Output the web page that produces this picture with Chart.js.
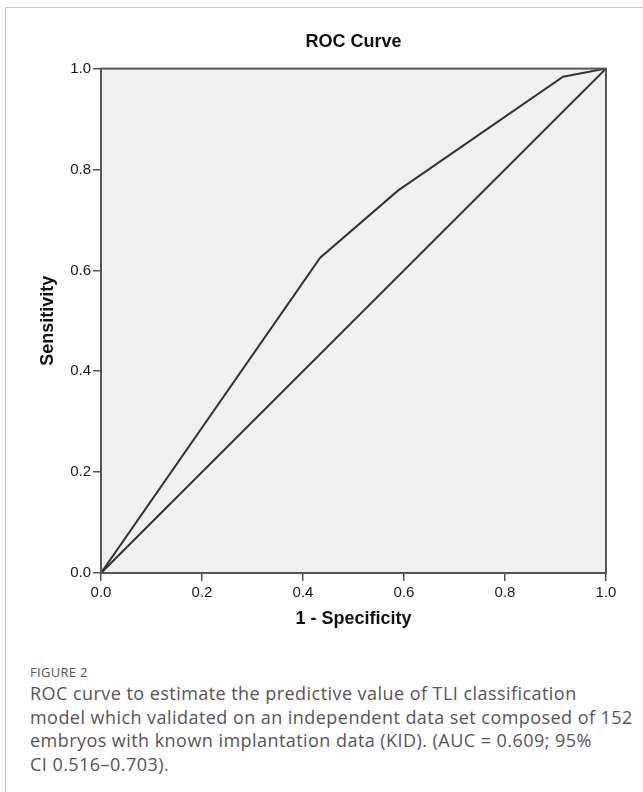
<!DOCTYPE html>
<html>
<head>
<meta charset="utf-8">
<script src="https://cdn.jsdelivr.net/npm/chart.js@4"></script>
<style>
  html, body { margin: 0; padding: 0; background: #fff; }
  body { width: 643px; height: 792px; position: relative; overflow: hidden; }
  .frame { position: absolute; left: 5px; top: 7px; right: 0; bottom: 0;
           border-top: 1px solid #c8c8c8; border-left: 1px solid #c8c8c8; }
  .chart-box { position: absolute; left: 0; top: 0; width: 643px; height: 640px; }
  .caption { position: absolute; left: 30px; top: 663px; width: 612px;
             font-family: "Open Sans", "Noto Sans", sans-serif; color: #555; }
  .caption .label { font-size: 13px; letter-spacing: 0.3px; margin-bottom: 1px; }
  .caption .text { font-size: 18px; line-height: 23.5px; letter-spacing: 0.45px; white-space: nowrap; }
</style>
</head>
<body>
<div class="frame"></div>
<div class="chart-box"><canvas id="roc"></canvas></div>
<div class="caption">
  <div class="label">FIGURE 2</div>
  <div class="text">ROC curve to estimate the predictive value of TLI classification<br>model which validated on an independent data set composed of 152<br>embryos with known implantation data (KID). (AUC = 0.609; 95%<br>CI 0.516–0.703).</div>
</div>
<script>
// ROC points
const specComplement = [0, 0.434, 0.588, 0.915, 1];
const sensitivity = [0, 0.625, 0.758, 0.984, 1];
// reference diagonal
const refX = [0, 1];
const refY = [0, 1];
const tickValues = [0, 0.2, 0.4, 0.6, 0.8, 1.0];

const toPoints = (xs, ys) => xs.map((x, i) => ({ x: x, y: ys[i] }));

Chart.defaults.font.family = '"Liberation Sans", Arial, sans-serif';
Chart.defaults.color = '#1a1a1a';

const plotFrame = {
  id: 'plotFrame',
  beforeDatasetsDraw(chart) {
    const { ctx, chartArea: a } = chart;
    ctx.save();
    ctx.fillStyle = '#f0f0f0';
    ctx.fillRect(a.left, a.top, a.right - a.left, a.bottom - a.top);
    ctx.restore();
  },
  afterDatasetsDraw(chart) {
    const { ctx, chartArea: a } = chart;
    ctx.save();
    ctx.strokeStyle = '#555';
    ctx.lineWidth = 2;
    ctx.strokeRect(a.left, a.top, a.right - a.left, a.bottom - a.top);
    ctx.restore();
  }
};

const axisCommon = {
  type: 'linear',
  min: 0,
  max: 1,
  afterBuildTicks(scale) {
    scale.ticks = tickValues.map(v => ({ value: v }));
  },
  grid: { drawOnChartArea: false, drawTicks: true, tickLength: 8, color: '#555', lineWidth: 1.5 },
  border: { display: true, color: '#555', width: 2 }
};

new Chart(document.getElementById('roc'), {
  type: 'scatter',
  data: {
    datasets: [
      {
        label: 'ROC',
        data: toPoints(specComplement, sensitivity),
        showLine: true,
        borderColor: '#333',
        borderWidth: 2,
        pointRadius: 0,
        fill: false
      },
      {
        label: 'Reference',
        data: toPoints(refX, refY),
        showLine: true,
        borderColor: '#333',
        borderWidth: 2,
        pointRadius: 0,
        fill: false
      }
    ]
  },
  options: {
    responsive: true,
    maintainAspectRatio: false,
    animation: false,
    layout: { padding: { left: 0, right: 37, top: 0, bottom: 0 } },
    plugins: {
      legend: { display: false },
      tooltip: { enabled: false },
      title: {
        display: true,
        fullSize: false,
        text: 'ROC Curve',
        color: '#111',
        font: { size: 18, weight: 'bold' },
        padding: { top: 31, bottom: 16 }
      }
    },
    scales: {
      x: Object.assign({}, axisCommon, {
        position: 'bottom',
        ticks: {
          padding: 3, maxRotation: 0,
          font: { size: 15 },
          callback: v => Number(v).toFixed(1)
        },
        title: {
          display: true,
          text: '1 - Specificity',
          color: '#111',
          font: { size: 18, weight: 'bold' },
          padding: { top: 0, bottom: 10 }
        },
        afterFit(scale) { scale.height = 67; }
      }),
      y: Object.assign({}, axisCommon, {
        position: 'left',
        ticks: {
          padding: 2,
          font: { size: 15 },
          callback: v => Number(v).toFixed(1)
        },
        title: {
          display: true,
          text: 'Sensitivity',
          color: '#111',
          font: { size: 18, weight: 'bold' },
          padding: { top: 37, bottom: 0 }
        },
        afterFit(scale) { scale.width = 101; }
      })
    }
  },
  plugins: [plotFrame]
});
</script>
</body>
</html>
